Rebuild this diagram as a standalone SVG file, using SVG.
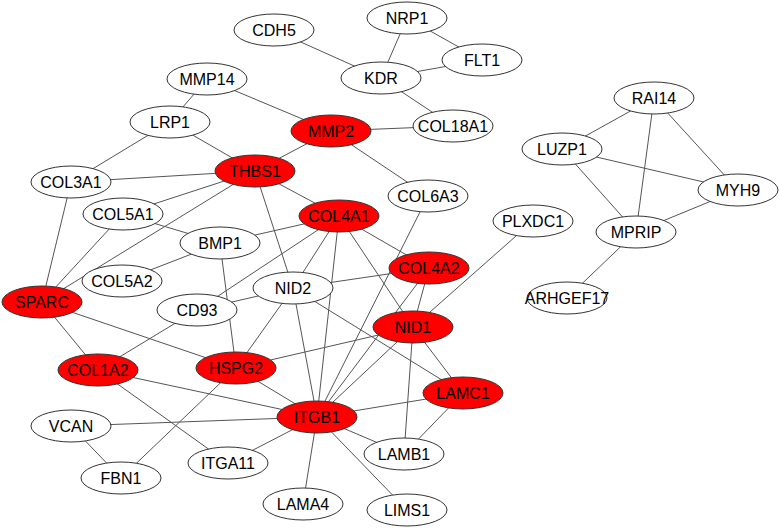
<svg xmlns="http://www.w3.org/2000/svg" width="780" height="530" viewBox="0 0 780 530">
<style>
.e{stroke:#555;stroke-width:1;fill:none}
.n ellipse{stroke:#333;stroke-width:1;fill:#fff}
.n.r ellipse{fill:#f00}
.n text{font-family:"Liberation Sans",Arial,sans-serif;font-size:16px;fill:#000;text-anchor:middle}
</style>
<rect width="780" height="530" fill="#fff"/>
<g id="edges" class="e">
<line x1="274" y1="30" x2="381" y2="78"/>
<line x1="407" y1="18" x2="381" y2="78"/>
<line x1="407" y1="18" x2="482" y2="60"/>
<line x1="381" y1="78" x2="482" y2="60"/>
<line x1="381" y1="78" x2="453" y2="126"/>
<line x1="331" y1="131" x2="453" y2="126"/>
<line x1="207" y1="79" x2="331" y2="131"/>
<line x1="207" y1="79" x2="170" y2="122"/>
<line x1="170" y1="122" x2="71" y2="182"/>
<line x1="170" y1="122" x2="255" y2="171"/>
<line x1="331" y1="131" x2="255" y2="171"/>
<line x1="331" y1="131" x2="428" y2="196"/>
<line x1="428" y1="196" x2="317" y2="417"/>
<line x1="255" y1="171" x2="71" y2="182"/>
<line x1="255" y1="171" x2="123" y2="214"/>
<line x1="255" y1="171" x2="42" y2="302"/>
<line x1="255" y1="171" x2="339" y2="216"/>
<line x1="255" y1="171" x2="293" y2="288"/>
<line x1="71" y1="182" x2="42" y2="302"/>
<line x1="123" y1="214" x2="42" y2="302"/>
<line x1="123" y1="214" x2="220" y2="243"/>
<line x1="220" y1="243" x2="339" y2="216"/>
<line x1="220" y1="243" x2="122" y2="281"/>
<line x1="220" y1="243" x2="236" y2="368"/>
<line x1="339" y1="216" x2="197" y2="310"/>
<line x1="339" y1="216" x2="293" y2="288"/>
<line x1="339" y1="216" x2="317" y2="417"/>
<line x1="339" y1="216" x2="413" y2="327"/>
<line x1="339" y1="216" x2="429" y2="268"/>
<line x1="429" y1="268" x2="413" y2="327"/>
<line x1="429" y1="268" x2="317" y2="417"/>
<line x1="429" y1="268" x2="293" y2="288"/>
<line x1="293" y1="288" x2="197" y2="310"/>
<line x1="293" y1="288" x2="236" y2="368"/>
<line x1="293" y1="288" x2="317" y2="417"/>
<line x1="293" y1="288" x2="463" y2="393"/>
<line x1="533" y1="221" x2="413" y2="327"/>
<line x1="413" y1="327" x2="236" y2="368"/>
<line x1="413" y1="327" x2="317" y2="417"/>
<line x1="413" y1="327" x2="463" y2="393"/>
<line x1="413" y1="327" x2="404" y2="454"/>
<line x1="463" y1="393" x2="404" y2="454"/>
<line x1="463" y1="393" x2="317" y2="417"/>
<line x1="197" y1="310" x2="98" y2="370"/>
<line x1="42" y1="302" x2="98" y2="370"/>
<line x1="42" y1="302" x2="236" y2="368"/>
<line x1="236" y1="368" x2="317" y2="417"/>
<line x1="236" y1="368" x2="121" y2="478"/>
<line x1="98" y1="370" x2="317" y2="417"/>
<line x1="98" y1="370" x2="228" y2="463"/>
<line x1="71" y1="426" x2="317" y2="417"/>
<line x1="71" y1="426" x2="121" y2="478"/>
<line x1="228" y1="463" x2="317" y2="417"/>
<line x1="317" y1="417" x2="404" y2="454"/>
<line x1="317" y1="417" x2="303" y2="504"/>
<line x1="317" y1="417" x2="407" y2="510"/>
<line x1="654" y1="98" x2="562" y2="149"/>
<line x1="654" y1="98" x2="636" y2="232"/>
<line x1="654" y1="98" x2="738" y2="190"/>
<line x1="562" y1="149" x2="738" y2="190"/>
<line x1="562" y1="149" x2="636" y2="232"/>
<line x1="738" y1="190" x2="636" y2="232"/>
<line x1="636" y1="232" x2="567" y2="298"/>
</g>
<g id="CDH5" class="n"><ellipse cx="274" cy="30" rx="40" ry="16"/><text x="274" y="36">CDH5</text></g>
<g id="NRP1" class="n"><ellipse cx="407" cy="18" rx="40" ry="16"/><text x="407" y="24">NRP1</text></g>
<g id="FLT1" class="n"><ellipse cx="482" cy="60" rx="40" ry="16"/><text x="482" y="66">FLT1</text></g>
<g id="KDR" class="n"><ellipse cx="381" cy="78" rx="40" ry="16"/><text x="381" y="84">KDR</text></g>
<g id="MMP14" class="n"><ellipse cx="207" cy="79" rx="40" ry="16"/><text x="207" y="85">MMP14</text></g>
<g id="LRP1" class="n"><ellipse cx="170" cy="122" rx="40" ry="16"/><text x="170" y="128">LRP1</text></g>
<g id="MMP2" class="n r"><ellipse cx="331" cy="131" rx="40" ry="16"/><text x="331" y="137">MMP2</text></g>
<g id="COL18A1" class="n"><ellipse cx="453" cy="126" rx="40" ry="16"/><text x="453" y="132">COL18A1</text></g>
<g id="COL3A1" class="n"><ellipse cx="71" cy="182" rx="40" ry="16"/><text x="71" y="188">COL3A1</text></g>
<g id="THBS1" class="n r"><ellipse cx="255" cy="171" rx="40" ry="16"/><text x="255" y="177">THBS1</text></g>
<g id="RAI14" class="n"><ellipse cx="654" cy="98" rx="40" ry="16"/><text x="654" y="104">RAI14</text></g>
<g id="LUZP1" class="n"><ellipse cx="562" cy="149" rx="40" ry="16"/><text x="562" y="155">LUZP1</text></g>
<g id="MYH9" class="n"><ellipse cx="738" cy="190" rx="40" ry="16"/><text x="738" y="196">MYH9</text></g>
<g id="MPRIP" class="n"><ellipse cx="636" cy="232" rx="40" ry="16"/><text x="636" y="238">MPRIP</text></g>
<g id="ARHGEF17" class="n"><ellipse cx="567" cy="298" rx="40" ry="16"/><text x="567" y="304">ARHGEF17</text></g>
<g id="COL5A1" class="n"><ellipse cx="123" cy="214" rx="40" ry="16"/><text x="123" y="220">COL5A1</text></g>
<g id="BMP1" class="n"><ellipse cx="220" cy="243" rx="40" ry="16"/><text x="220" y="249">BMP1</text></g>
<g id="COL6A3" class="n"><ellipse cx="428" cy="196" rx="40" ry="16"/><text x="428" y="202">COL6A3</text></g>
<g id="COL4A1" class="n r"><ellipse cx="339" cy="216" rx="40" ry="16"/><text x="339" y="222">COL4A1</text></g>
<g id="PLXDC1" class="n"><ellipse cx="533" cy="221" rx="40" ry="16"/><text x="533" y="227">PLXDC1</text></g>
<g id="COL4A2" class="n r"><ellipse cx="429" cy="268" rx="40" ry="16"/><text x="429" y="274">COL4A2</text></g>
<g id="NID2" class="n"><ellipse cx="293" cy="288" rx="40" ry="16"/><text x="293" y="294">NID2</text></g>
<g id="CD93" class="n"><ellipse cx="197" cy="310" rx="40" ry="16"/><text x="197" y="316">CD93</text></g>
<g id="COL5A2" class="n"><ellipse cx="122" cy="281" rx="40" ry="16"/><text x="122" y="287">COL5A2</text></g>
<g id="SPARC" class="n r"><ellipse cx="42" cy="302" rx="40" ry="16"/><text x="42" y="308">SPARC</text></g>
<g id="NID1" class="n r"><ellipse cx="413" cy="327" rx="40" ry="16"/><text x="413" y="333">NID1</text></g>
<g id="COL1A2" class="n r"><ellipse cx="98" cy="370" rx="40" ry="16"/><text x="98" y="376">COL1A2</text></g>
<g id="HSPG2" class="n r"><ellipse cx="236" cy="368" rx="40" ry="16"/><text x="236" y="374">HSPG2</text></g>
<g id="LAMC1" class="n r"><ellipse cx="463" cy="393" rx="40" ry="16"/><text x="463" y="399">LAMC1</text></g>
<g id="ITGB1" class="n r"><ellipse cx="317" cy="417" rx="40" ry="16"/><text x="317" y="423">ITGB1</text></g>
<g id="VCAN" class="n"><ellipse cx="71" cy="426" rx="40" ry="16"/><text x="71" y="432">VCAN</text></g>
<g id="FBN1" class="n"><ellipse cx="121" cy="478" rx="40" ry="16"/><text x="121" y="484">FBN1</text></g>
<g id="ITGA11" class="n"><ellipse cx="228" cy="463" rx="40" ry="16"/><text x="228" y="469">ITGA11</text></g>
<g id="LAMB1" class="n"><ellipse cx="404" cy="454" rx="40" ry="16"/><text x="404" y="460">LAMB1</text></g>
<g id="LAMA4" class="n"><ellipse cx="303" cy="504" rx="40" ry="16"/><text x="303" y="510">LAMA4</text></g>
<g id="LIMS1" class="n"><ellipse cx="407" cy="510" rx="40" ry="16"/><text x="407" y="516">LIMS1</text></g>
</svg>
